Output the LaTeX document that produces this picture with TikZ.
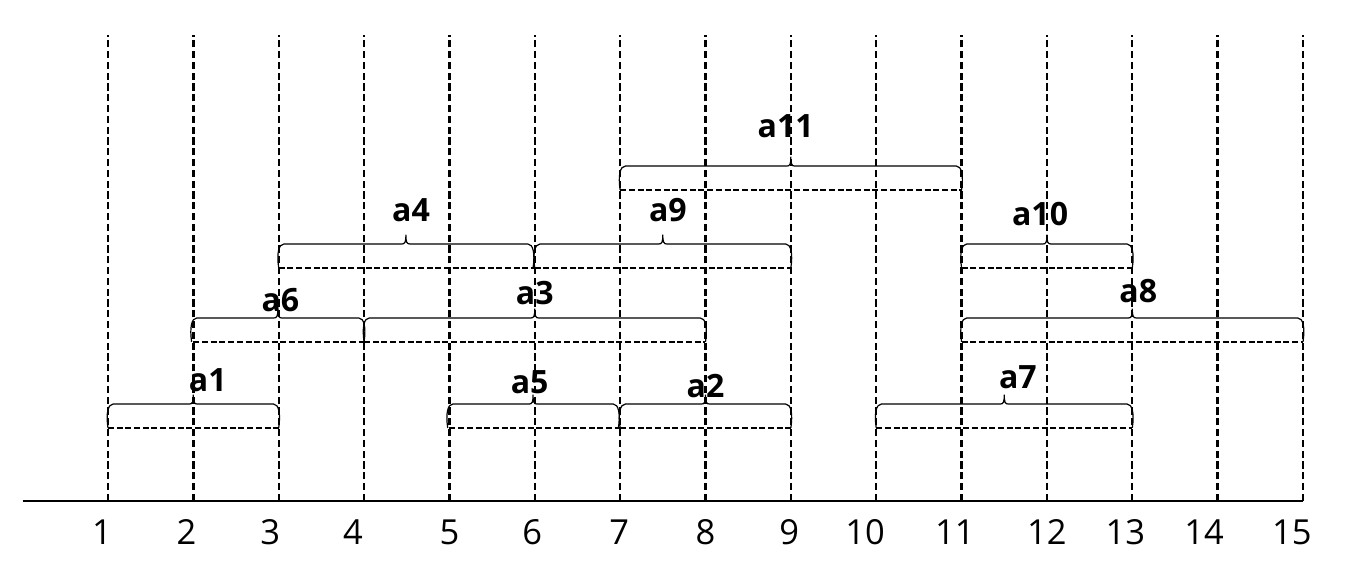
\documentclass[tikz,border=0pt]{standalone}
\usepackage{fontspec}
\setmainfont{Open Sans}
\newcommand{\intbrace}[3]{%
  \draw[brc] (#1,#3) .. controls (#1-0.025,#3+0.17) and (#1,#3+0.28) .. (#1+0.06,#3+0.28)
    -- ({(#1+#2)/2-0.05},#3+0.28) .. controls ({(#1+#2)/2-0.01},#3+0.28) and ({(#1+#2)/2},#3+0.30) .. ({(#1+#2)/2},#3+0.39)
    .. controls ({(#1+#2)/2},#3+0.30) and ({(#1+#2)/2+0.01},#3+0.28) .. ({(#1+#2)/2+0.05},#3+0.28)
    -- (#2-0.06,#3+0.28) .. controls (#2,#3+0.28) and (#2+0.025,#3+0.17) .. (#2,#3);}
\begin{document}
\begin{tikzpicture}[
  grid/.style={line width=0.8pt, dash pattern=on 2.4pt off 1.2pt},
  ival/.style={line width=0.8pt, dash pattern=on 2pt off 0.9pt},
  brc/.style={line width=0.4pt},
  lbl/.style={font=\fontsize{10.7}{12}\selectfont\bfseries, inner sep=0pt},
  num/.style={font=\fontsize{11.5}{13}\selectfont, inner sep=0pt}]

\useasboundingbox (-0.265,-0.890) rectangle (15.574,5.869);

\draw[grid] (1,0) -- (1,5.459);
\draw[grid] (2,0) -- (2,5.459);
\draw[grid] (3,0) -- (3,5.459);
\draw[grid] (4,0) -- (4,5.459);
\draw[grid] (5,0) -- (5,5.459);
\draw[grid] (6,0) -- (6,5.459);
\draw[grid] (7,0) -- (7,5.459);
\draw[grid] (8,0) -- (8,5.459);
\draw[grid] (9,0) -- (9,5.459);
\draw[grid] (10,0) -- (10,5.459);
\draw[grid] (11,0) -- (11,5.459);
\draw[grid] (12,0) -- (12,5.459);
\draw[grid] (13,0) -- (13,5.459);
\draw[grid] (14,0) -- (14,5.459);
\draw[grid] (15,0) -- (15,5.459);

\draw[line width=0.8pt] (0,0) -- (15,0);

\node[num] (n1) at (0.93,-0.363) {1};
\node[num] (n2) at (1.92,-0.363) {2};
\node[num] (n3) at (2.90,-0.363) {3};
\node[num] (n4) at (3.87,-0.363) {4};
\node[num] (n5) at (5.0,-0.363) {5};
\node[num] (n6) at (5.97,-0.363) {6};
\node[num] (n7) at (6.99,-0.363) {7};
\node[num] (n8) at (8.0,-0.363) {8};
\node[num] (n9) at (8.98,-0.363) {9};
\node[num] (n10) at (9.87,-0.363) {10};
\node[num] (n11) at (10.92,-0.363) {11};
\node[num] (n12) at (12.0,-0.363) {12};
\node[num] (n13) at (12.92,-0.363) {13};
\node[num] (n14) at (13.84,-0.363) {14};
\node[num] (n15) at (14.87,-0.363) {15};

% bottom row
\draw[ival] (1,0.855) -- (3,0.855);
\intbrace{1}{3}{0.855}
\node[lbl] (a1) at (2.17,1.418) {a1};

\draw[ival] (5,0.855) -- (7,0.855);
\intbrace{4.98}{6.98}{0.855}
\node[lbl] (a5) at (5.94,1.394) {a5};

\draw[ival] (7,0.855) -- (9,0.855);
\intbrace{7}{9}{0.855}
\node[lbl] (a2) at (8.0,1.347) {a2};

\draw[ival] (10,0.855) -- (13,0.855);
\intbrace{10}{13}{0.855}
\node[lbl] (a7) at (11.66,1.453) {a7};

% second row
\draw[ival] (2,1.863) -- (4,1.863);
\intbrace{1.98}{4}{1.863}
\node[lbl] (a6) at (3.02,2.355) {a6};

\draw[ival] (4,1.863) -- (8,1.863);
\intbrace{4}{8}{1.863}
\node[lbl] (a3) at (6.0,2.437) {a3};

\draw[ival] (11,1.863) -- (15,1.863);
\intbrace{11}{15}{1.863}
\node[lbl] (a8) at (13.07,2.460) {a8};

% third row
\draw[ival] (3,2.730) -- (6,2.730);
\intbrace{3}{5.98}{2.730}
\node[lbl] (a4) at (4.55,3.409) {a4};

\draw[ival] (6,2.730) -- (9,2.730);
\intbrace{6}{9}{2.730}
\node[lbl] (a9) at (7.56,3.409) {a9};

\draw[ival] (11,2.730) -- (13,2.730);
\intbrace{11}{13}{2.730}
\node[lbl] (a10) at (11.92,3.362) {a10};

% top row
\draw[ival] (7,3.643) -- (11,3.643);
\intbrace{7}{11}{3.643}
\node[lbl] (a11) at (8.94,4.393) {a11};

\end{tikzpicture}
\end{document}
